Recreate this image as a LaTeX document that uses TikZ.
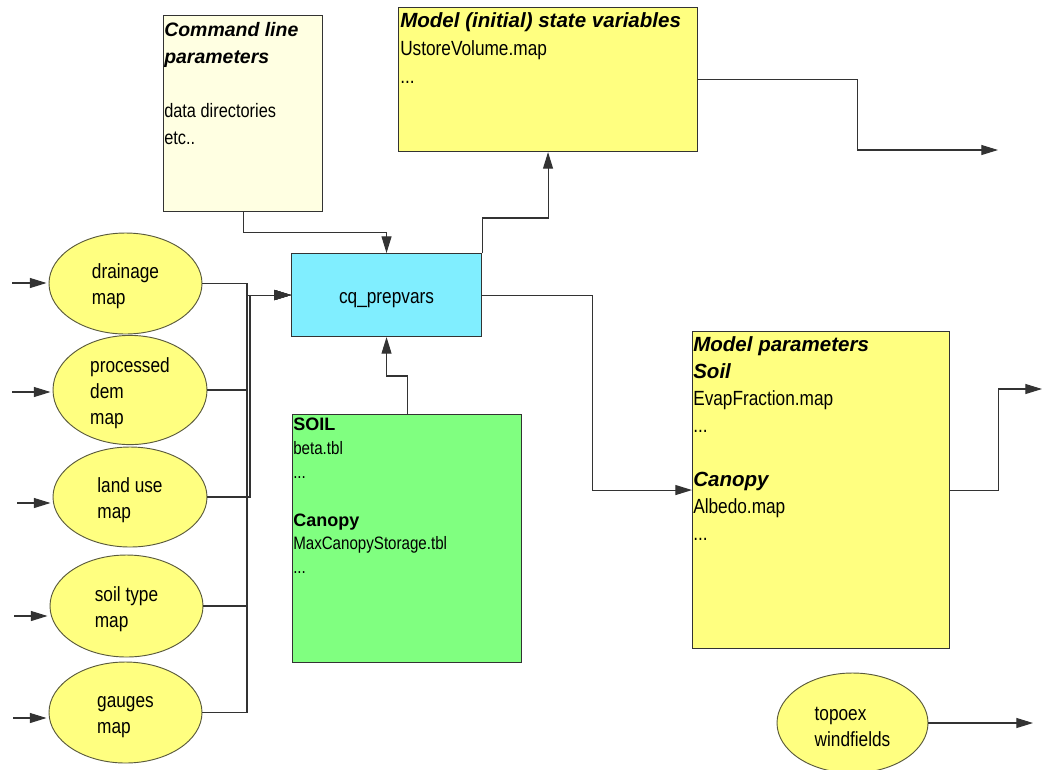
\documentclass[tikz,border=0pt]{standalone}
\usepackage{fontspec}
\setmainfont{Liberation Sans}
\newfontfamily\nfont[FakeStretch=0.84]{Liberation Sans}
\usetikzlibrary{arrows.meta,shapes.geometric}
\definecolor{lyel}{RGB}{255,255,226}
\definecolor{yel}{RGB}{255,255,128}
\definecolor{cyn}{RGB}{128,238,255}
\definecolor{grn}{RGB}{128,255,128}
\definecolor{bord}{RGB}{51,51,51}
\definecolor{eline}{RGB}{90,90,60}
\newcommand\hdi[1]{{\rmfamily\bfseries\itshape #1}}
\newcommand\hdb[1]{{\rmfamily\bfseries #1}}
\newcommand\etop{\rule{0pt}{15.7pt}}
\begin{document}
\begin{tikzpicture}[x=0.75pt,y=-0.75pt,
  sz/.style 2 args={minimum width=#1*0.75pt, minimum height=#2*0.75pt},
  box/.style={draw=bord, line width=0.8pt, rectangle, inner sep=0pt, anchor=north west},
  ell/.style={draw=eline, fill=yel, ellipse, line width=0.7pt, inner sep=0pt, align=left, font=\fontsize{15.4}{19.5}\selectfont\nfont},
  txt/.style={inner sep=0pt, anchor=north west, align=left, font=\fontsize{15.4}{20.2}\selectfont\nfont},
  conn/.style={draw=black!80, line width=0.8pt},
  arr/.style={conn, -{Triangle[length=12.5pt,width=7.5pt]}},
]
\useasboundingbox (0,0) rectangle (1042,769);

% boxes
\node[box, fill=lyel, sz={159}{196}] (cmd) at (163,15) {};
\node[box, fill=yel, sz={299}{144}] (state) at (398,7) {};
\node[box, fill=cyn, sz={190}{83}, font=\fontsize{15.4}{20}\selectfont\nfont] (cq) at (291,253) {\etop cq\_prepvars};
\node[box, fill=grn, sz={229}{248}] (green) at (292,414) {};
\node[box, fill=yel, sz={257}{317}] (params) at (692,331) {};

% box texts
\node[txt, font=\fontsize{14.6}{20.2}\selectfont\nfont] (cmdt) at (164,22)
  {\hdi{Command line}\\\hdi{parameters}\\\mbox{}\\data directories\\etc..};
\node[txt, font=\fontsize{15.4}{21}\selectfont\nfont] (statet) at (400,12.5)
  {\hdi{Model (initial) state variables}\\UstoreVolume.map\\...};
\node[txt] (paramst) at (693,336.5)
  {\hdi{Model parameters}\\\hdi{Soil}\\EvapFraction.map\\...\\\mbox{}\\\hdi{Canopy}\\Albedo.map\\...};
\node[txt, font=\fontsize{13.5}{17.85}\selectfont\nfont] (greent) at (293,418)
  {\hdb{SOIL}\\beta.tbl\\...\\\mbox{}\\\hdb{Canopy}\\MaxCanopyStorage.tbl\\...};

% ellipses
\node[ell, sz={153}{101}] (e1) at (125.5,283.5) {\etop drainage\\map};
\node[ell, sz={154}{104}] (e2) at (130,390) {\etop processed\\dem\\map};
\node[ell, sz={154}{100}] (e3) at (130,497) {\etop land use\\map};
\node[ell, sz={153}{102}] (e4) at (126.5,606) {\etop soil type\\map};
\node[ell, sz={153}{101}] (e5) at (125.5,712.5) {\etop gauges\\map};
\node[ell, sz={151}{100}] (e6) at (852.5,723) {\etop topoex\\windfields};

% coordinates
\coordinate (bus) at (247,295);
\coordinate (bus3) at (250,295);
\coordinate (o1) at (998,150);
\coordinate (o2) at (1042,389);
\coordinate (o3) at (1033,723);
\coordinate (i1) at (12,283);
\coordinate (i2) at (12,392);
\coordinate (i3) at (17,503);
\coordinate (i4) at (14,616);
\coordinate (i5) at (13,718);

% input arrows
\draw[arr, shorten >=1.5pt] (i1) -- (i1 -| e1.west);
\draw[arr, shorten >=1.5pt] (i2) -- (i2 -| e2.west);
\draw[arr, shorten >=1.5pt] (i3) -- (i3 -| e3.west);
\draw[arr, shorten >=1.5pt] (i4) -- (i4 -| e4.west);
\draw[arr, shorten >=1.5pt] (i5) -- (i5 -| e5.west);

% ellipses to cq_prepvars
\draw[arr] (e1.east) -- (e1.east -| bus) |- (cq.west);
\draw[arr] (e2.east) -- (e2.east -| bus) |- (cq.west);
\draw[arr] (e3.east) -- (e3.east -| bus3) |- (cq.west);
\draw[arr] (e4.east) -- (e4.east -| bus) |- (cq.west);
\draw[arr] (e5.east) -- (e5.east -| bus) |- (cq.west);

% other connectors
\draw[arr] (cmd.south) -- ++(0,20) -| (cq.north);
\draw[arr] (cq.north east) -- ++(0,-35) -| (state.south);
\draw[arr] (state.east) -- ++(159,0) |- (o1);
\draw[arr] (cq.east) -- ++(110,0) |- (params.west);
\draw[arr] (params.east) -- ++(48,0) |- (o2);
\draw[arr] (green.north) -- ++(0,-38) -| (cq.south);
\draw[arr] (e6.east) -- (o3);
\end{tikzpicture}
\end{document}
